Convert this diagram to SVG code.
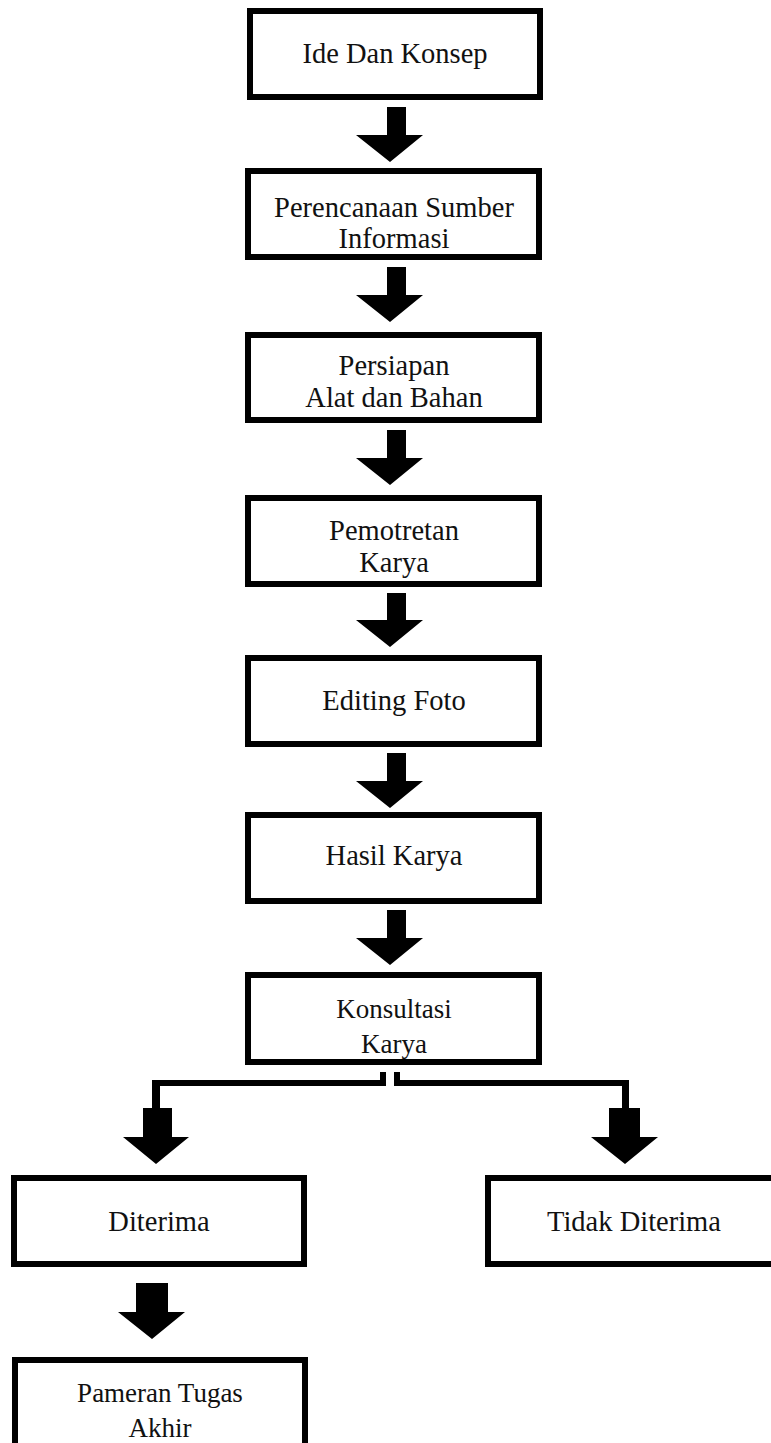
<svg xmlns="http://www.w3.org/2000/svg" width="771" height="1443" viewBox="0 0 771 1443">
<style>
.box{fill:#fff;stroke:#000;stroke-width:6}
.t{font-family:"Liberation Serif","Times New Roman",serif;font-size:28.5px;fill:#111;text-anchor:middle}
.g{font-family:"Liberation Serif","Times New Roman",serif;font-size:27px;fill:#111;text-anchor:middle}
.h{font-family:"Liberation Serif","Times New Roman",serif;font-size:28.5px;fill:#111;text-anchor:middle}
.c{fill:#000}
</style>
<rect width="771" height="1443" fill="#fff"/>
<g id="connectors">
<polygon class="c" points="387,107 406,107 406,135 423,135 390,162 356,135 387,135"/>
<polygon class="c" points="387,267 406,267 406,295 423,295 390,322 356,295 387,295"/>
<polygon class="c" points="387,430 406,430 406,458 423,458 390,485 356,458 387,458"/>
<polygon class="c" points="387,593 406,593 406,620 423,620 390,647 356,620 387,620"/>
<polygon class="c" points="387,753 406,753 406,781 423,781 390,808 356,781 387,781"/>
<polygon class="c" points="387,910 406,910 406,938 423,938 390,965 356,938 387,938"/>
<polygon class="c" points="380,1072 386,1072 386,1086 160,1086 160,1110 152,1110 152,1080 380,1080"/>
<polygon class="c" points="394,1072 400,1072 400,1080 629,1080 629,1110 622,1110 622,1086 394,1086"/>
<polygon class="c" points="143,1108 172,1108 172,1137 189,1137 156,1164 123,1137 143,1137"/>
<polygon class="c" points="609,1108 640,1108 640,1137 658,1137 625,1164 591,1137 609,1137"/>
<polygon class="c" points="136,1283 168,1283 168,1312 185,1312 152,1339 118,1312 136,1312"/>
</g>
<g id="n1"><rect class="box" x="250" y="11" width="290" height="86"/><text class="t" x="395" y="63">Ide Dan Konsep</text></g>
<g id="n2"><rect class="box" x="248" y="171" width="291" height="86"/><text class="t" x="394" y="217">Perencanaan Sumber</text><text class="t" x="394" y="248">Informasi</text></g>
<g id="n3"><rect class="box" x="248" y="335" width="291" height="85"/><text class="t" x="394" y="375">Persiapan</text><text class="t" x="394" y="407">Alat dan Bahan</text></g>
<g id="n4"><rect class="box" x="248" y="498" width="291" height="86"/><text class="t" x="394" y="540">Pemotretan</text><text class="t" x="394" y="572">Karya</text></g>
<g id="n5"><rect class="box" x="248" y="658" width="291" height="86"/><text class="t" x="394" y="710">Editing Foto</text></g>
<g id="n6"><rect class="box" x="248" y="815" width="291" height="86"/><text class="t" x="394" y="865">Hasil Karya</text></g>
<g id="n7"><rect class="box" x="248" y="975" width="291" height="87"/><text class="g" x="394" y="1018">Konsultasi</text><text class="g" x="394" y="1053">Karya</text></g>
<g id="n8"><rect class="box" x="14" y="1178" width="290" height="86"/><text class="h" x="159" y="1231">Diterima</text></g>
<g id="n9"><rect class="box" x="488" y="1178" width="292" height="86"/><text class="h" x="634" y="1231">Tidak Diterima</text></g>
<g id="n10"><rect class="box" x="15" y="1360" width="290" height="90"/><text class="g" x="160" y="1402">Pameran Tugas</text><text class="g" x="160" y="1437">Akhir</text></g>
</svg>
